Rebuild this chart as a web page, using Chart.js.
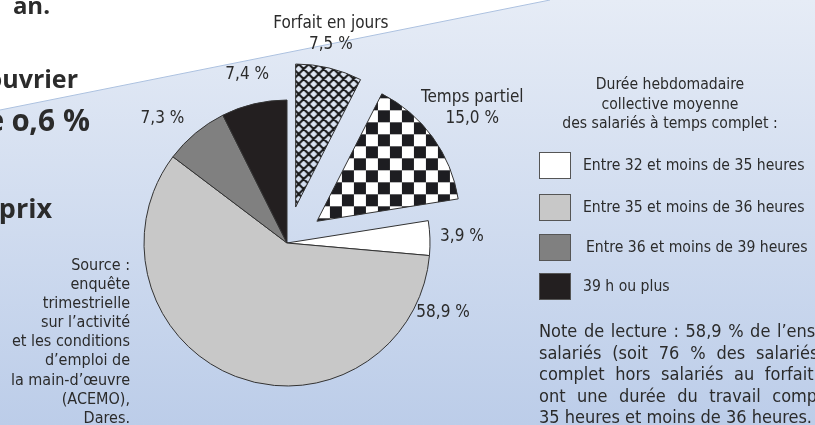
<!DOCTYPE html>
<html lang="fr">
<head>
<meta charset="utf-8">
<title>Durée hebdomadaire collective moyenne</title>
<script src="https://cdn.jsdelivr.net/npm/chart.js@4.4.1/dist/chart.umd.min.js"></script>
<style>
  html, body { margin: 0; padding: 0; }
  body {
    width: 815px; height: 425px; overflow: hidden; position: relative;
    font-family: "DejaVu Sans Condensed", "DejaVu Sans", sans-serif;
    font-size: 15.6px; color: #2b2b2b;
  }
  #pie { position: absolute; left: 0; top: 0; }
  .t { position: absolute; white-space: nowrap; }
  .big { font-family: "Open Sans", sans-serif; font-weight: 700; line-height: 1; color: #2b2b2b;
         font-variant-numeric: oldstyle-nums; }
  #source { right: 685px; top: 255px; font-size: 16px; line-height: 19.1px; text-align: right; }
  #legendTitle { left: 540px; width: 260px; top: 75px; line-height: 19.5px; text-align: center; }
  .box { position: absolute; left: 539px; width: 32px; height: 27px; box-sizing: border-box;
         border: 1px solid #555; }
  .item { line-height: 20px; }
  #note { left: 539px; top: 320px; font-size: 18px; line-height: 21.5px; }
  #note div { width: 362px; text-align: justify; text-align-last: justify; white-space: nowrap; }
  #note div.last { text-align-last: left; }
</style>
</head>
<body>
<canvas id="pie" width="815" height="425"></canvas>

<div class="t big" style="right:765px; top:-7px; font-size:24px;">an.</div>
<div class="t big" style="right:737px; top:66px; font-size:25px;">ouvrier</div>
<div class="t big" style="right:725px; top:105px; font-size:30px;">de 0,6 %</div>
<div class="t big" style="right:763px; top:194px; font-size:27px;">prix</div>

<div class="t" id="source">Source :<br>enquête<br>trimestrielle<br>sur l’activité<br>et les conditions<br>d’emploi de<br>la main-d’œuvre<br>(ACEMO),<br>Dares.</div>

<div class="t" id="legendTitle">Durée hebdomadaire<br>collective moyenne<br>des salariés à temps complet :</div>
<div id="legend"></div>

<div class="t" id="note">
  <div>Note de lecture : 58,9 % de l’ensemble des</div>
  <div>salariés (soit 76 % des salariés à temps</div>
  <div>complet hors salariés au forfait en jours)</div>
  <div>ont une durée du travail comprise entre</div>
  <div class="last">35 heures et moins de 36 heures.</div>
</div>

<script>
// slices, clockwise from 12 o'clock
const categories = ['Forfait en jours', 'Temps partiel', 'Entre 32 et moins de 35 heures',
                    'Entre 35 et moins de 36 heures', 'Entre 36 et moins de 39 heures', '39 h ou plus'];
const values = [7.5, 15.0, 3.9, 58.9, 7.3, 7.4];
// name written next to the slice (only the two exploded ones)
const sliceNames = ['Forfait en jours', 'Temps partiel', '', '', '', ''];
const legendItems = [2, 3, 4, 5];

// style
const solidColors = [null, null, '#ffffff', '#c8c8c8', '#808080', '#231f20'];
const explode = [37, 37, 0, 0, 0, 0];
const labelFrac = [0.44, 0.5, 0.5, 0.09, 0.3, 0.5];
const labelGap = [70, 86, 32, 28, 33, 30];

const pct = v => v.toFixed(1).replace('.', ',') + ' %';

const canvas = document.getElementById('pie');
const ctx = canvas.getContext('2d');

function crossHatch() {
  const c = document.createElement('canvas');
  c.width = c.height = 10;
  const g = c.getContext('2d');
  g.strokeStyle = '#151515';
  g.lineWidth = 2;
  g.beginPath();
  for (let k = -1; k <= 1; k++) {
    g.moveTo(-5 + 10 * k, -5); g.lineTo(15 + 10 * k, 15);
    g.moveTo(15 + 10 * k, -5); g.lineTo(-5 + 10 * k, 15);
  }
  g.stroke();
  return ctx.createPattern(c, 'repeat');
}

function checker() {
  const c = document.createElement('canvas');
  c.width = c.height = 24;
  const g = c.getContext('2d');
  g.fillStyle = '#ffffff';
  g.fillRect(0, 0, 24, 24);
  g.fillStyle = '#1d1d21';
  g.fillRect(0, 0, 12, 12);
  g.fillRect(12, 12, 12, 12);
  return ctx.createPattern(c, 'repeat');
}

const sliceColors = solidColors.slice();
sliceColors[0] = crossHatch();
sliceColors[1] = checker();

// pulled-out slices keep their radius (Chart.js offset would also enlarge them)
const baseArcDraw = Chart.ArcElement.prototype.draw;
Chart.ArcElement.prototype.draw = function (c) {
  const i = this.$context ? this.$context.dataIndex : -1;
  const d = explode[i] || 0;
  if (!d) return baseArcDraw.call(this, c);
  const a = (this.startAngle + this.endAngle) / 2;
  c.save();
  c.translate(Math.cos(a) * d, Math.sin(a) * d);
  baseArcDraw.call(this, c);
  c.restore();
};

const backdrop = {
  id: 'backdrop',
  beforeDraw(chart) {
    const { ctx, width, height } = chart;
    ctx.save();
    ctx.fillStyle = '#ffffff';
    ctx.fillRect(0, 0, width, height);
    const grad = ctx.createLinearGradient(0, 0, 0, height);
    grad.addColorStop(0, '#e6ecf6');
    grad.addColorStop(1, '#bccde9');
    ctx.beginPath();
    ctx.moveTo(0, 110);
    ctx.lineTo(550, 0);
    ctx.lineTo(width, 0);
    ctx.lineTo(width, height);
    ctx.lineTo(0, height);
    ctx.closePath();
    ctx.fillStyle = grad;
    ctx.fill();
    ctx.beginPath();
    ctx.moveTo(0, 110);
    ctx.lineTo(550, 0);
    ctx.strokeStyle = '#adc2e0';
    ctx.lineWidth = 1;
    ctx.stroke();
    ctx.restore();
  }
};

const sliceLabels = {
  id: 'sliceLabels',
  afterDatasetsDraw(chart) {
    const c = chart.ctx;
    const arcs = chart.getDatasetMeta(0).data;
    c.save();
    c.font = '17px "DejaVu Sans Condensed", "DejaVu Sans", sans-serif';
    c.fillStyle = '#2b2b2b';
    c.textAlign = 'center';
    c.textBaseline = 'middle';
    arcs.forEach((arc, i) => {
      const { x, y, startAngle, endAngle, outerRadius } =
        arc.getProps(['x', 'y', 'startAngle', 'endAngle', 'outerRadius'], true);
      const a = startAngle + (endAngle - startAngle) * labelFrac[i];
      const d = outerRadius + labelGap[i];
      const cx = x + Math.cos(a) * d;
      const cy = y + Math.sin(a) * d;
      const lines = sliceNames[i] ? [sliceNames[i], pct(values[i])] : [pct(values[i])];
      lines.forEach((t, k) => c.fillText(t, cx, cy + (k - (lines.length - 1) / 2) * 21));
    });
    c.restore();
  }
};

new Chart(ctx, {
  type: 'pie',
  data: {
    labels: categories,
    datasets: [{
      data: values,
      backgroundColor: sliceColors,
      borderColor: '#333333',
      borderWidth: 1,
      hoverOffset: 0,
      radius: 143,
      clip: false
    }]
  },
  options: {
    responsive: false,
    animation: false,
    events: [],
    radius: 143,
    layout: { padding: { left: 187, right: 428, top: 143, bottom: 82 } },
    plugins: { legend: { display: false }, tooltip: { enabled: false } }
  },
  plugins: [backdrop, sliceLabels]
});

// legend (the four working-time classes)
const legendEl = document.getElementById('legend');
const boxTops = [152, 194, 234, 273];
const textLefts = [583, 583, 586, 583];
legendItems.forEach((idx, k) => {
  const box = document.createElement('div');
  box.className = 'box';
  box.style.top = boxTops[k] + 'px';
  box.style.background = solidColors[idx];
  legendEl.appendChild(box);
  const txt = document.createElement('div');
  txt.className = 't item';
  txt.style.left = textLefts[k] + 'px';
  txt.style.top = (boxTops[k] + 3) + 'px';
  txt.textContent = categories[idx];
  legendEl.appendChild(txt);
});
</script>
</body>
</html>
